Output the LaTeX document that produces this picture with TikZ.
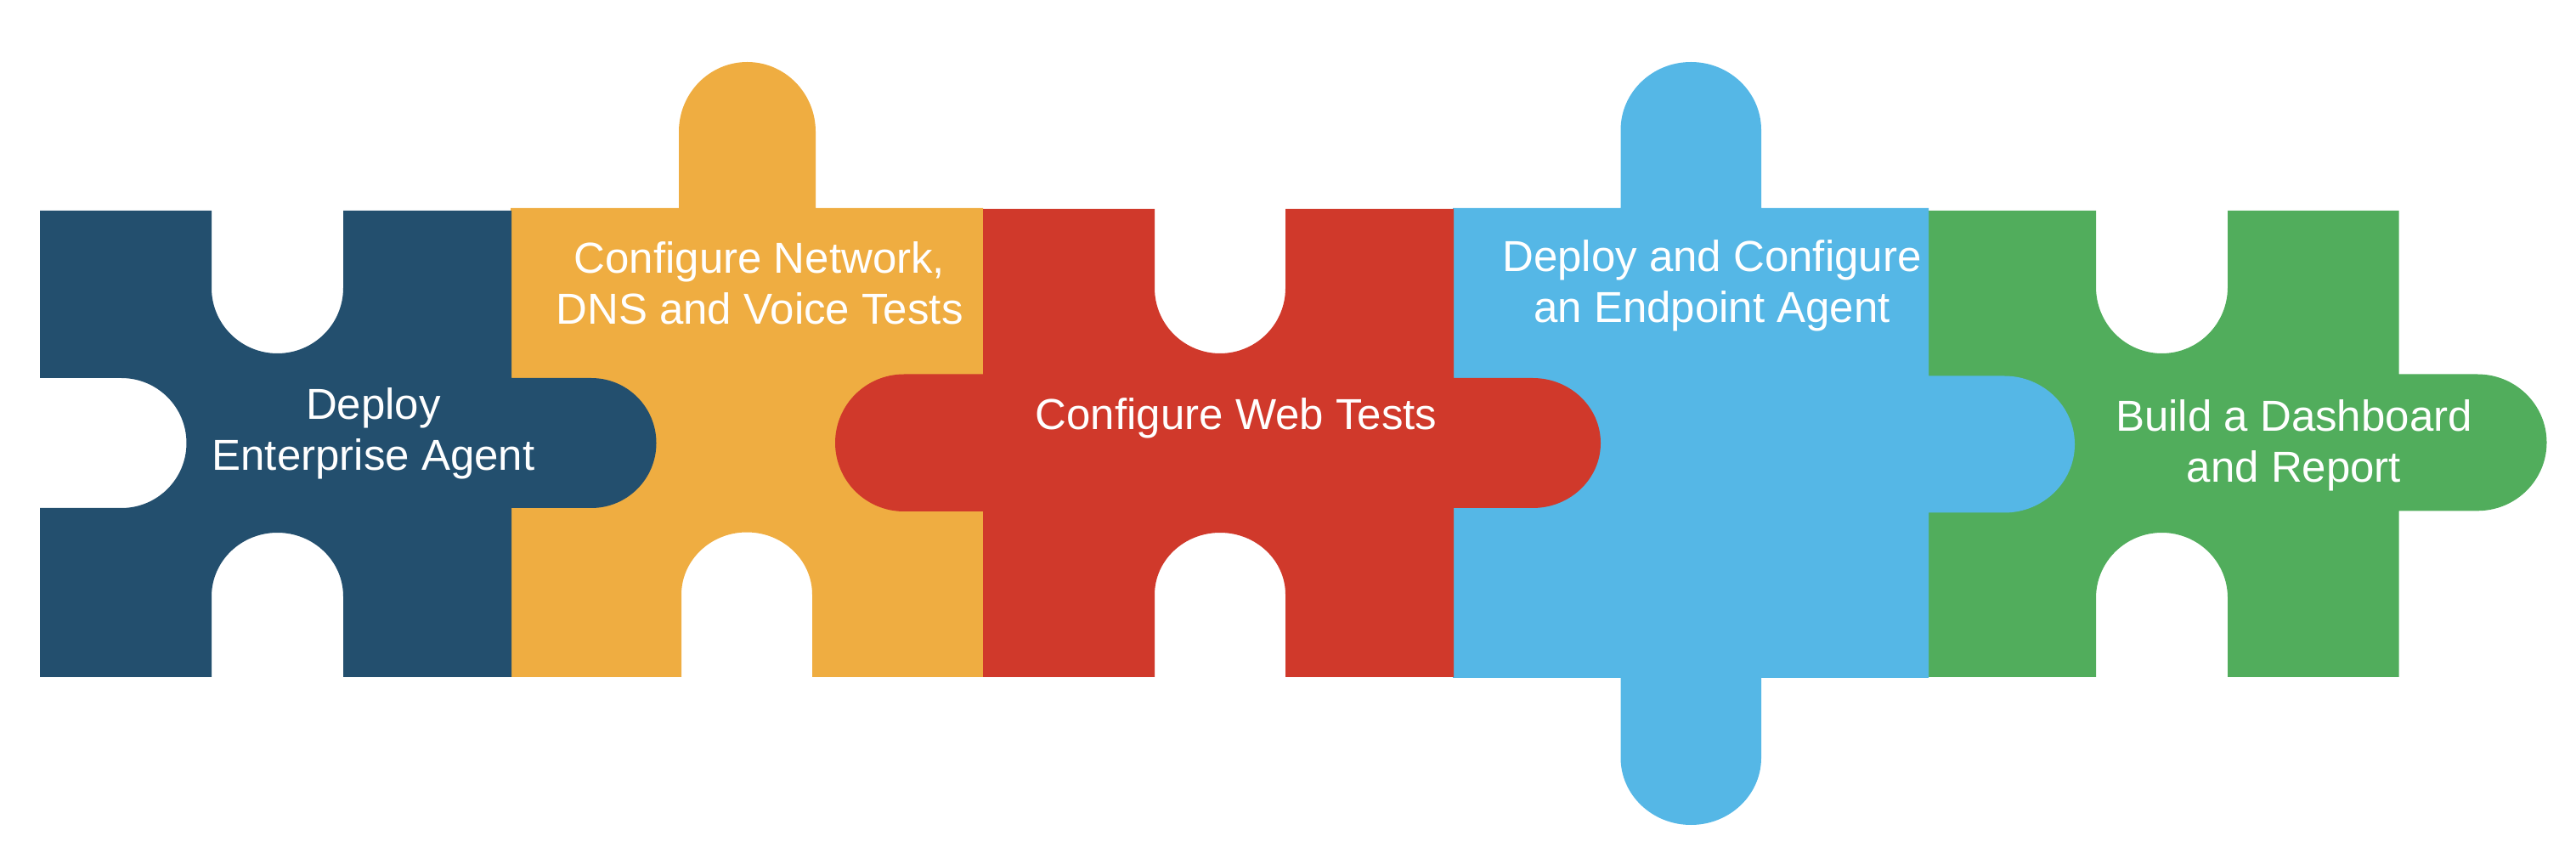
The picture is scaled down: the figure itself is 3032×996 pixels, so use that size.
\documentclass[tikz,border=0pt]{standalone}
\usepackage{fontspec}
\setmainfont{Liberation Sans}
\definecolor{pblue}{HTML}{234F6E}
\definecolor{porange}{HTML}{EFAD41}
\definecolor{pred}{HTML}{D0392B}
\definecolor{pcyan}{HTML}{55B7E6}
\definecolor{pgreen}{HTML}{51AD5C}
\tikzset{
  piecelabel/.style={text=white, anchor=base, inner sep=0pt, font=\fontsize{51}{60}\selectfont},
}
\newcommand{\plines}[1]{\begin{tabular}[t]{@{}c@{}}#1\end{tabular}}
\begin{document}
\begin{tikzpicture}[x=1pt,y=1pt]
\useasboundingbox (0,0) rectangle (3032,996);
% green piece
\fill[pgreen] (2270,748) -- (2467,748) -- (2467,658)
  arc[start angle=180,end angle=360,x radius=77.5,y radius=78] -- (2622,748)
  -- (2823.5,748) -- (2823.5,555.5) -- (2916,555.5)
  arc[start angle=90,end angle=-90,x radius=81.5,y radius=80.4] -- (2823.5,394.7)
  -- (2823.5,199) -- (2622,199) -- (2622,292.3)
  arc[start angle=0,end angle=180,x radius=77.5,y radius=76.7] -- (2467,199)
  -- (2270,199) -- cycle;
% cyan piece
\fill[pcyan] (1710,751) -- (1907.5,751) -- (1907.5,843)
  arc[start angle=180,end angle=0,x radius=82.75,y radius=80] -- (2073,751)
  -- (2270,751) -- (2270,553.5) -- (2359,553.5)
  arc[start angle=90,end angle=-90,x radius=83,y radius=80.5] -- (2270,392.5)
  -- (2270,198) -- (2073,198) -- (2073,104)
  arc[start angle=0,end angle=-180,x radius=82.75,y radius=79] -- (1907.5,198)
  -- (1710,198) -- cycle;
% orange piece
\fill[porange] (601,751) -- (799,751) -- (799,841)
  arc[start angle=180,end angle=0,x radius=80.5,y radius=82] -- (960,751)
  -- (1157,751) -- (1157,199) -- (956,199) -- (956,296)
  arc[start angle=0,end angle=180,x radius=77,y radius=73.5] -- (802,199)
  -- (601,199) -- cycle;
% blue piece
\fill[pblue] (47,748) -- (249,748) -- (249,657)
  arc[start angle=180,end angle=360,x radius=77.5,y radius=77] -- (404,748)
  -- (602,748) -- (602,551) -- (696,551)
  arc[start angle=90,end angle=-90,x radius=76.5,y radius=76.5] -- (602,398)
  -- (602,199) -- (404,199) -- (404,294)
  arc[start angle=0,end angle=180,x radius=77.5,y radius=75] -- (249,199)
  -- (47,199) -- (47,398) -- (143,398)
  arc[start angle=-90,end angle=90,radius=76.5] -- (47,551) -- cycle;
% red piece
\fill[pred] (1157,750) -- (1359,750) -- (1359,657)
  arc[start angle=180,end angle=360,x radius=77,y radius=77] -- (1513,750)
  -- (1711,750) -- (1711,551) -- (1804,551)
  arc[start angle=90,end angle=-90,x radius=80,y radius=76.5] -- (1711,398)
  -- (1711,199) -- (1513,199) -- (1513,296)
  arc[start angle=0,end angle=180,x radius=77,y radius=73] -- (1359,199)
  -- (1157,199) -- (1157,394) -- (1064,394)
  arc[start angle=270,end angle=90,x radius=81,y radius=80.75] -- (1157,555.5) -- cycle;
% labels
\node[piecelabel] (l1) at (439.5,502) {\plines{Deploy\\Enterprise Agent}};
\node[piecelabel] (l2) at (894,674) {\plines{Configure Network,\\DNS and Voice Tests}};
\node[piecelabel] (l3) at (1455,490.4) {\plines{Configure Web Tests}};
\node[piecelabel] (l4) at (2015,676.4) {\plines{Deploy and Configure\\an Endpoint Agent}};
\node[piecelabel] (l5) at (2700,488.4) {\plines{Build a Dashboard\\and Report}};
\end{tikzpicture}
\end{document}
